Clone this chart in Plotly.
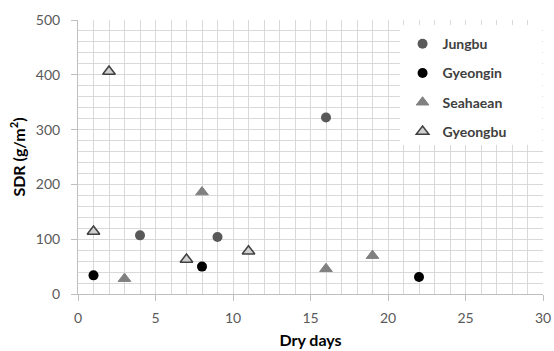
import plotly.graph_objects as go

# Data
jungbu_x = [16, 4, 9]
jungbu_y = [322, 107, 104]
gyeongin_x = [1, 8, 22]
gyeongin_y = [34, 50, 31]
seahaean_x = [3, 8, 16, 19]
seahaean_y = [28, 186, 46, 70]
gyeongbu_x = [2, 1, 7, 11]
gyeongbu_y = [406, 114, 63, 78]

FONT = "Lato"
fig = go.Figure()
fig.add_trace(go.Scatter(x=jungbu_x, y=jungbu_y, mode="markers", name="Jungbu",
                         legendgroup="a",
                         marker=dict(symbol="circle", size=10, color="#595959")))
fig.add_trace(go.Scatter(x=gyeongin_x, y=gyeongin_y, mode="markers", name="Gyeongin",
                         legendgroup="b",
                         marker=dict(symbol="circle", size=10, color="#000000")))
fig.add_trace(go.Scatter(x=seahaean_x, y=seahaean_y, mode="markers", name="Seahaean",
                         legendgroup="c",
                         marker=dict(symbol="triangle-up", size=11, color="#808080",
                                     line=dict(color="#808080", width=1))))
fig.add_trace(go.Scatter(x=gyeongbu_x, y=gyeongbu_y, mode="markers", name="Gyeongbu",
                         legendgroup="d",
                         marker=dict(symbol="triangle-up", size=11, color="#d0d0d0",
                                     line=dict(color="#404040", width=1.5))))

fig.add_shape(type="rect", xref="paper", yref="paper", x0=0.692, x1=0.998, y0=0.545, y1=0.982,
              fillcolor="white", line=dict(width=0), layer="above")

fig.update_layout(
    width=554, height=351,
    margin=dict(l=78, r=11, t=20, b=57),
    paper_bgcolor="white", plot_bgcolor="white",
    font=dict(family=FONT, size=14, color="#595959"),
    showlegend=True,
    legend=dict(x=0.698, y=0.97, xanchor="left", yanchor="top",
                bgcolor="rgba(0,0,0,0)", tracegroupgap=8,
                font=dict(family=FONT, size=14, color="#404040", weight="bold"),
                itemwidth=30),
    xaxis=dict(range=[0, 30], dtick=5, tick0=0, automargin=False,
               showgrid=True, gridcolor="#d9d9d9", gridwidth=1,
               minor=dict(dtick=1, showgrid=True, gridcolor="#d9d9d9", gridwidth=1),
               zeroline=False, showline=True, linecolor="#bfbfbf", linewidth=1,
               ticks="outside", ticklen=6, tickcolor="#bfbfbf",
               ticklabelstandoff=5,
               tickfont=dict(family=FONT, size=14, color="#595959"),
               title=dict(text="Dry days", standoff=10,
                          font=dict(family=FONT, size=16, color="#000000", weight="bold"))),
    yaxis=dict(range=[0, 500], dtick=100, tick0=0, automargin=False,
               showgrid=True, gridcolor="#d9d9d9", gridwidth=1,
               minor=dict(dtick=20, showgrid=True, gridcolor="#d9d9d9", gridwidth=1),
               zeroline=False, showline=True, linecolor="#bfbfbf", linewidth=1,
               ticks="outside", ticklen=6, tickcolor="#bfbfbf",
               ticklabelstandoff=8,
               tickfont=dict(family=FONT, size=14, color="#595959"),
               title=dict(text="SDR (g/m<sup>2</sup>)", standoff=6,
                          font=dict(family=FONT, size=16, color="#000000", weight="bold"))),
)

fig.write_html("out.html")
